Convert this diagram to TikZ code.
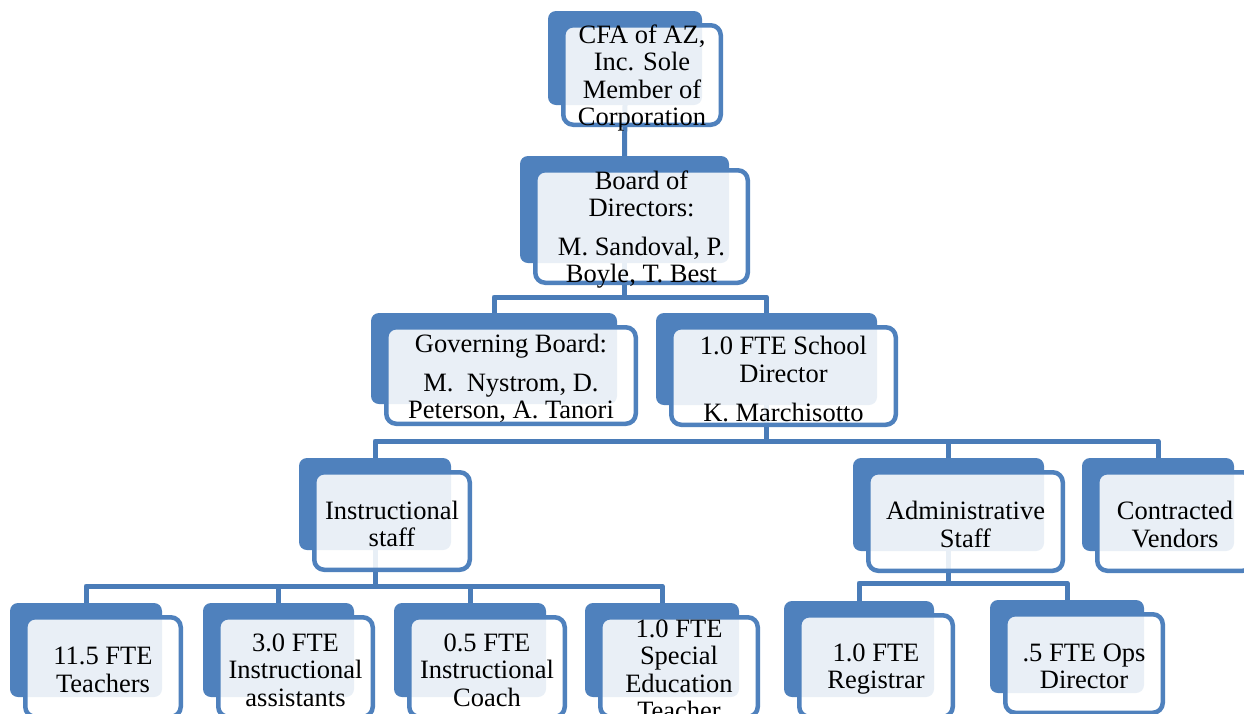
\documentclass[tikz,border=0pt]{standalone}
\usepackage{fontspec}
\setmainfont{Liberation Serif}
\usetikzlibrary{backgrounds}

\definecolor{orgblue}{HTML}{4F81BD}
\definecolor{linkblue}{HTML}{4A7CB8}

\tikzset{
  backbox/.style={fill=orgblue, draw=none, rounded corners=8pt,
    inner sep=0pt, outer sep=0pt},
  frontbox/.style={draw=orgblue, line width=4.5pt, rounded corners=10pt,
    fill=white, fill opacity=0.88, inner sep=0pt, outer sep=0pt},
  cardtext/.style={inner sep=0pt, align=center, text=black,
    font=\fontsize{26.5}{27.5}\selectfont},
  link/.style={draw=linkblue, line width=5pt, line join=round},
}

% #1 name, #2 left, #3 top, #4 right, #5 bottom of the front card, #6 text
\newcommand\orgunit[6]{%
  \node[backbox, minimum width={#4-#2-8}, minimum height={#5-#3-10}]
    (#1b) at ({(#2+#4)/2-17},{(#3+#5)/2-17}) {};
  \node[frontbox, minimum width={#4-#2-4.5}, minimum height={#5-#3-4.5}]
    (#1) at ({(#2+#4)/2},{(#3+#5)/2}) {};
  \node[cardtext] (#1t) at ({(#2+#4)/2},{(#3+#5)/2+3}) {#6};
}

\begin{document}
\begin{tikzpicture}[x=1pt, y=-1pt]
  \useasboundingbox (0,0) rectangle (1244,713);
  \clip (0,0) rectangle (1244,713);

  % cards
  \orgunit{cfa}{561}{23}{723}{127}{CFA of AZ,\\Inc. Sole\\Member of\\Corporation}
  \orgunit{board}{533}{168}{750}{285}{Board of\\Directors:\\[11pt]M. Sandoval, P.\\Boyle, T. Best}
  \orgunit{gov}{384}{325}{638}{426}{Governing Board:\\[11pt]M.~~Nystrom, D.\\Peterson, A. Tanori}
  \orgunit{dir}{669}{325}{898}{427}{1.0 FTE School\\Director\\[12pt]K. Marchisotto}
  \orgunit{instr}{312}{470}{472}{572}{Instructional\\staff}
  \orgunit{admin}{866}{470}{1065}{573}{Administrative\\Staff}
  \orgunit{vend}{1095}{470}{1255}{573}{Contracted\\Vendors}
  \orgunit{teach}{23}{615}{183}{719}{11.5 FTE\\Teachers}
  \orgunit{asst}{216}{615}{375}{719}{3.0 FTE\\Instructional\\assistants}
  \orgunit{coach}{407}{615}{567}{719}{0.5 FTE\\Instructional\\Coach}
  \orgunit{sped}{598}{615}{760}{719}{1.0 FTE\\Special\\Education\\Teacher}
  \orgunit{reg}{797}{613}{955}{719}{1.0 FTE\\Registrar}
  \orgunit{ops}{1003}{612}{1165}{715}{.5 FTE Ops\\Director}

  % bus levels
  \coordinate (bus1) at (0,297);
  \coordinate (bus2) at (0,441);
  \coordinate (bus3) at (0,586);
  \coordinate (bus4) at (0,583);

  % connectors, behind the cards
  \begin{pgfonlayer}{background}
    \fill[white] (0,0) rectangle (1244,713);
    \draw[link] (cfab.south) -- (boardb.north);

    \draw[link] (boardb.south) -- (boardb.south |- bus1);
    \draw[link] (govb.north) -- (govb.north |- bus1) -- (dirb.north |- bus1) -- (dirb.north);

    \draw[link] (dirb.south) -- (dirb.south |- bus2);
    \draw[link] (instrb.north) -- (instrb.north |- bus2) -- (vendb.north |- bus2) -- (vendb.north);
    \draw[link] (adminb.north |- bus2) -- (adminb.north);

    \draw[link] (instrb.south) -- (instrb.south |- bus3);
    \draw[link] (teachb.north) -- (teachb.north |- bus3) -- (spedb.north |- bus3) -- (spedb.north);
    \draw[link] (asstb.north |- bus3) -- (asstb.north);
    \draw[link] (coachb.north |- bus3) -- (coachb.north);

    \draw[link] (adminb.south) -- (adminb.south |- bus4);
    \draw[link] (regb.north) -- (regb.north |- bus4) -- (opsb.north |- bus4) -- (opsb.north);
  \end{pgfonlayer}
\end{tikzpicture}
\end{document}
